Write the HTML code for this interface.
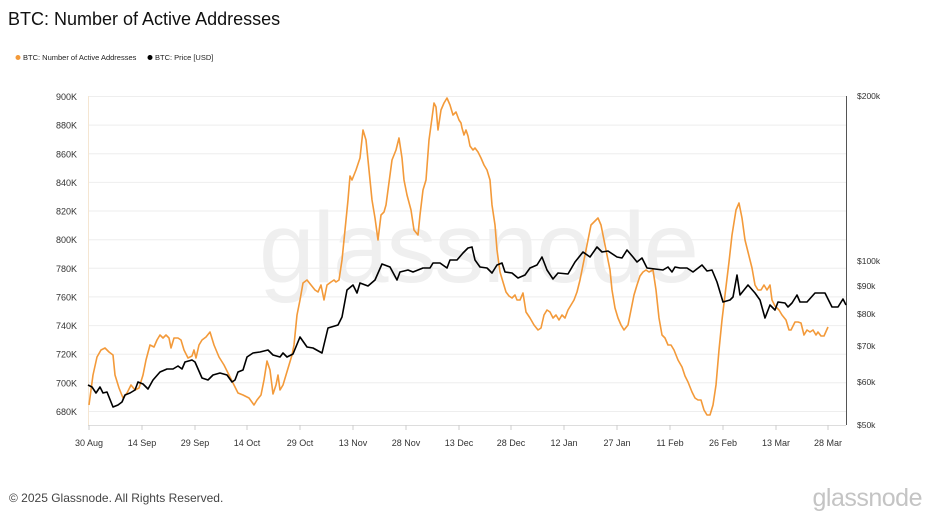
<!DOCTYPE html>
<html><head><meta charset="utf-8"><style>
html,body{margin:0;padding:0;background:#fff;}
body{width:938px;height:514px;overflow:hidden;font-family:"Liberation Sans",sans-serif;}
</style></head><body>
<svg width="938" height="514" viewBox="0 0 938 514" xmlns="http://www.w3.org/2000/svg" font-family="Liberation Sans, sans-serif">
<rect width="938" height="514" fill="#fff"/>
<text x="8" y="25" font-size="18" fill="#111">BTC: Number of Active Addresses</text>
<circle cx="18" cy="57.5" r="2.5" fill="#f39a3a"/>
<text x="23" y="60" font-size="7.5" fill="#222">BTC: Number of Active Addresses</text>
<circle cx="150" cy="57.5" r="2.5" fill="#000"/>
<text x="155" y="60" font-size="7.5" fill="#222">BTC: Price [USD]</text>
<text x="478" y="282" font-size="100" fill="#efefef" text-anchor="middle" letter-spacing="-2">glassnode</text>
<g stroke="#eeeeee" stroke-width="1">
<line x1="88" x2="846" y1="96.5" y2="96.5"/><line x1="88" x2="846" y1="125.1" y2="125.1"/>
<line x1="88" x2="846" y1="153.8" y2="153.8"/><line x1="88" x2="846" y1="182.4" y2="182.4"/>
<line x1="88" x2="846" y1="211" y2="211"/><line x1="88" x2="846" y1="239.7" y2="239.7"/>
<line x1="88" x2="846" y1="268.3" y2="268.3"/><line x1="88" x2="846" y1="296.9" y2="296.9"/>
<line x1="88" x2="846" y1="325.6" y2="325.6"/><line x1="88" x2="846" y1="354.2" y2="354.2"/>
<line x1="88" x2="846" y1="382.8" y2="382.8"/><line x1="88" x2="846" y1="411.5" y2="411.5"/>
</g>
<line x1="88.5" y1="96" x2="88.5" y2="425" stroke="#f5e6d2"/>
<line x1="846.5" y1="96" x2="846.5" y2="425" stroke="#555"/>
<line x1="88" y1="425.5" x2="846" y2="425.5" stroke="#ddd"/>
<g font-size="9" fill="#333" text-anchor="end">
<text x="77" y="100">900K</text><text x="77" y="128.6">880K</text><text x="77" y="157.3">860K</text>
<text x="77" y="185.9">840K</text><text x="77" y="214.5">820K</text><text x="77" y="243.2">800K</text>
<text x="77" y="271.8">780K</text><text x="77" y="300.4">760K</text><text x="77" y="329.1">740K</text>
<text x="77" y="357.7">720K</text><text x="77" y="386.3">700K</text><text x="77" y="415">680K</text>
</g>
<g font-size="8.5" fill="#333">
<text x="857" y="99">$200k</text><text x="857" y="264">$100k</text><text x="857" y="289">$90k</text>
<text x="857" y="317">$80k</text><text x="857" y="349">$70k</text><text x="857" y="385">$60k</text>
<text x="857" y="428">$50k</text>
</g>
<g stroke="#ccc"><line x1="89" x2="89" y1="425" y2="430"/><line x1="142" x2="142" y1="425" y2="430"/><line x1="195" x2="195" y1="425" y2="430"/><line x1="247" x2="247" y1="425" y2="430"/><line x1="300" x2="300" y1="425" y2="430"/><line x1="353" x2="353" y1="425" y2="430"/><line x1="406" x2="406" y1="425" y2="430"/><line x1="459" x2="459" y1="425" y2="430"/><line x1="511" x2="511" y1="425" y2="430"/><line x1="564" x2="564" y1="425" y2="430"/><line x1="617" x2="617" y1="425" y2="430"/><line x1="670" x2="670" y1="425" y2="430"/><line x1="723" x2="723" y1="425" y2="430"/><line x1="776" x2="776" y1="425" y2="430"/><line x1="828" x2="828" y1="425" y2="430"/></g>
<g font-size="9" fill="#333" text-anchor="middle">
<text x="89" y="446">30 Aug</text><text x="142" y="446">14 Sep</text><text x="195" y="446">29 Sep</text>
<text x="247" y="446">14 Oct</text><text x="300" y="446">29 Oct</text><text x="353" y="446">13 Nov</text>
<text x="406" y="446">28 Nov</text><text x="459" y="446">13 Dec</text><text x="511" y="446">28 Dec</text>
<text x="564" y="446">12 Jan</text><text x="617" y="446">27 Jan</text><text x="670" y="446">11 Feb</text>
<text x="723" y="446">26 Feb</text><text x="776" y="446">13 Mar</text><text x="828" y="446">28 Mar</text>
</g>
<polyline fill="none" stroke="#f39a3a" stroke-width="1.6" stroke-linejoin="round" points="89,405 93,375 97,357 101,350 105,348 109,352 113,355 115,375 119,388 123,398 127,393 131,385 135,390 139,388 143,375 146,360 150,345 154,347 157,340 160,335 163,338 166,335 169,338 171,348 174,338 178,338 181,340 184,350 188,358 192,356 194,350 196,358 199,345 202,340 206,337 210,332 214,345 219,357 224,365 229,375 234,385 238,393 243,395 249,398 254,405 257,400 261,395 264,380 267,361 270,370 273,394 276,385 278,375 280,390 283,385 286,375 289,365 292,355 294,345 297,315 300,300 303,283 307,280 311,285 315,290 318,292 321,285 324,300 327,285 331,282 334,280 336,282 339,280 342,260 345,230 348,200 350,176 352,180 356,170 360,158 363,130 366,140 369,170 372,200 375,218 378,240 381,215 384,212 386,205 388,190 392,160 396,150 399,138 402,158 404,180 407,195 411,210 414,230 418,235 420,215 423,190 426,180 429,140 432,118 434,103 436,107 438,130 441,110 444,103 447,98 450,105 453,115 456,112 459,120 461,123 462,128 464,135 466,130 468,136 470,146 473,150 475,148 478,152 481,158 484,165 487,170 490,180 492,205 495,225 497,250 500,272 503,282 506,292 509,296 512,298 515,295 517,300 520,300 523,293 526,312 530,318 534,325 538,330 541,328 544,315 547,310 550,312 553,318 556,315 559,320 562,315 565,318 568,310 571,305 574,300 577,292 580,280 583,265 587,245 591,225 594,222 598,218 601,225 604,240 607,255 610,270 612,290 615,308 618,318 621,325 624,330 628,325 631,310 634,295 637,285 640,276 643,272 646,270 649,272 653,270 656,290 659,318 662,335 665,338 668,345 671,345 674,350 678,360 682,367 685,376 688,382 692,392 695,398 698,400 701,400 704,410 707,415 710,415 713,405 716,385 719,350 722,320 725,295 729,262 732,235 736,210 739,203 742,218 745,240 748,252 752,268 755,285 758,290 761,290 764,285 767,290 770,285 772,300 775,306 779,310 782,315 786,320 789,330 791,330 795,322 798,322 801,323 804,335 807,330 810,332 813,330 816,335 818,332 821,336 824,336 828,327"/>
<polyline fill="none" stroke="#000" stroke-width="1.6" stroke-linejoin="round" points="88,385 92,387 96,393 100,387 103,393 107,392 113,407 118,405 122,402 125,395 130,393 135,390 138,382 143,384 148,389 153,380 160,372 167,369 173,369 178,366 182,369 185,362 192,360 195,362 202,378 208,380 213,375 220,373 227,375 232,382 235,380 238,372 243,370 247,357 253,353 260,352 268,350 273,355 280,357 283,353 287,357 293,354 300,337 307,347 313,348 322,353 328,328 338,325 342,317 347,290 353,285 357,293 360,283 368,286 375,280 382,264 390,267 397,280 400,272 408,270 413,272 423,268 430,268 433,263 440,263 447,268 450,260 457,260 463,253 468,248 472,247 475,260 480,267 487,268 492,273 497,265 502,263 505,272 512,273 518,278 525,275 530,268 537,265 542,257 547,270 553,279 558,273 568,274 575,262 583,252 590,257 597,247 602,252 608,251 617,257 622,258 627,250 633,257 637,262 642,258 647,268 663,270 668,267 672,272 675,267 680,268 687,268 693,272 702,265 707,271 712,270 717,282 723,302 730,300 733,297 737,275 740,295 748,285 755,293 760,300 765,318 770,305 775,310 778,302 785,303 788,307 792,303 797,295 800,302 807,302 815,293 825,293 832,307 838,307 843,299 846,305"/>
<text x="9" y="502" font-size="12" fill="#444">© 2025 Glassnode. All Rights Reserved.</text>
<text x="922" y="506" font-size="25" fill="#c4c4c4" text-anchor="end" letter-spacing="-0.5">glassnode</text>
</svg>
</body></html>
